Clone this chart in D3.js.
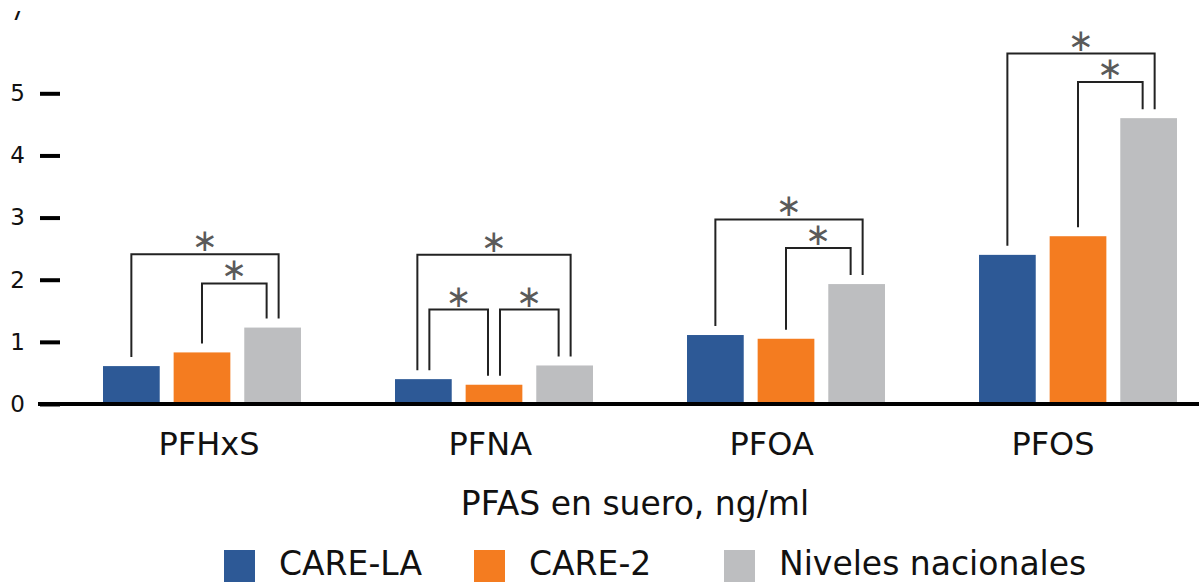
<!DOCTYPE html>
<html>
<head>
<meta charset="utf-8">
<script src="https://cdn.jsdelivr.net/npm/d3@7"></script>
<style>
  html, body { margin: 0; padding: 0; background: #fff; }
  svg { display: block; }
</style>
</head>
<body>
<svg id="chart" width="1199" height="582"></svg>
<script>
// ---------- data ----------
const categories = ["PFHxS", "PFNA", "PFOA", "PFOS"];
const seriesNames = ["CARE-LA", "CARE-2", "Niveles nacionales"];
const careLA   = [0.61, 0.40, 1.11, 2.40];
const care2    = [0.83, 0.31, 1.05, 2.70];
const nacional = [1.23, 0.62, 1.93, 4.60];
const yTicks = [0, 1, 2, 3, 4, 5];
const xTitle = "PFAS en suero, ng/ml";
// significance brackets: category, from series index, to series index, bracket level (ng/ml)
const bracketCat   = ["PFHxS", "PFHxS", "PFNA", "PFNA", "PFNA", "PFOA", "PFOA", "PFOS", "PFOS"];
const bracketFrom  = [0, 1, 0, 0, 1, 0, 1, 0, 1];
const bracketTo    = [2, 2, 2, 1, 2, 2, 2, 2, 2];
const bracketLevel = [2.41, 1.94, 2.40, 1.52, 1.52, 2.97, 2.51, 5.64, 5.18];
const bracketMark  = ["∗", "∗", "∗", "∗", "∗", "∗", "∗", "∗", "∗"];

const colors = ["#2d5996", "#f47c20", "#bdbec0"];
const FONT = "'DejaVu Sans', sans-serif";

const values = [careLA, care2, nacional];
const rows = categories.map((c, i) => ({ cat: c, vals: values.map(s => s[i]) }));

const svg = d3.select("#chart");

// ---------- scales ----------
const x0 = d3.scaleBand().domain(categories).range([103, 1177]).paddingInner(0.322).paddingOuter(0);
const x1 = d3.scaleBand().domain(d3.range(seriesNames.length)).range([0, x0.bandwidth()]).paddingInner(0.197).paddingOuter(0);
const xLabel = d3.scalePoint().domain(categories).range([209, 1053]);
const y = d3.scaleLinear().domain([0, 5]).range([404, 93.3]);

// ---------- y axis ----------
const yAxis = d3.axisLeft(y).tickValues(yTicks).tickSize(20).tickPadding(15).tickFormat(d3.format("d"));
const gy = svg.append("g").attr("transform", "translate(60,0)").call(yAxis);
gy.select(".domain").remove();
gy.selectAll(".tick line").attr("stroke", "#000").attr("stroke-width", 4);
gy.selectAll(".tick text").attr("font-family", FONT).attr("font-size", 23).attr("fill", "#111");

// partially hidden top label
svg.append("clipPath").attr("id", "topclip").append("rect").attr("x", 0).attr("y", 11).attr("width", 60).attr("height", 20);
svg.append("text").attr("clip-path", "url(#topclip)")
  .attr("x", 25).attr("y", 20).attr("text-anchor", "end")
  .attr("font-family", FONT).attr("font-size", 23).attr("fill", "#111").text("7");

// ---------- bars ----------
const groups = svg.append("g").selectAll("g").data(rows).join("g")
  .attr("transform", d => `translate(${x0(d.cat)},0)`);
groups.selectAll("rect").data(d => d.vals.map((v, k) => ({ k, v }))).join("rect")
  .attr("x", d => x1(d.k))
  .attr("width", x1.bandwidth())
  .attr("y", d => y(d.v))
  .attr("height", d => y(0) - y(d.v))
  .attr("fill", d => colors[d.k]);

// x axis line
svg.append("line").attr("x1", 38).attr("x2", 1199).attr("y1", y(0)).attr("y2", y(0))
  .attr("stroke", "#000").attr("stroke-width", 4);

// ---------- brackets ----------
const brackets = bracketCat.map((c, i) => ({ cat: c, a: bracketFrom[i], b: bracketTo[i], level: bracketLevel[i], mark: bracketMark[i] }));
const legOffset = 6;
function legX(br, end) {
  const me = end === "a" ? br.a : br.b;
  const other = end === "a" ? br.b : br.a;
  const center = x0(br.cat) + x1(me) + x1.bandwidth() / 2;
  const legs = [];
  brackets.filter(o => o.cat === br.cat).forEach(o => {
    if (o.a === me) legs.push({ o, diff: o.b - me });
    if (o.b === me) legs.push({ o, diff: o.a - me });
  });
  if (legs.length < 2) return center;
  legs.sort((p, q) => 1 / p.diff - 1 / q.diff);
  const idx = legs.findIndex(l => l.o === br && l.diff === other - me);
  return center + (idx === 0 ? -legOffset : legOffset);
}
const catIndex = c => categories.indexOf(c);
const gb = svg.append("g");
brackets.forEach(br => {
  const xa = legX(br, "a"), xb = legX(br, "b");
  const ya = y(values[br.a][catIndex(br.cat)]) - 9;
  const yb = y(values[br.b][catIndex(br.cat)]) - 9;
  const yt = y(br.level);
  gb.append("path")
    .attr("d", d3.line()([[xa, ya], [xa, yt], [xb, yt], [xb, yb]]))
    .attr("fill", "none").attr("stroke", "#222").attr("stroke-width", 2);
  gb.append("text")
    .attr("x", (xa + xb) / 2).attr("y", yt - 14)
    .attr("text-anchor", "middle").attr("dominant-baseline", "central")
    .attr("font-family", "'DejaVu Sans', sans-serif").attr("font-size", 31).attr("fill", "#5a5a5a")
    .text(br.mark);
});

// ---------- category labels ----------
svg.append("g").selectAll("text").data(categories).join("text")
  .attr("x", d => xLabel(d))
  .attr("y", 455)
  .attr("text-anchor", "middle")
  .attr("font-family", FONT).attr("font-size", 32).attr("fill", "#111")
  .text(d => d);

// axis title
svg.append("text").attr("x", 635).attr("y", 515).attr("text-anchor", "middle")
  .attr("font-family", FONT).attr("font-size", 33).attr("fill", "#111").text(xTitle);

// ---------- legend ----------
const legendX = d3.scalePoint().domain(seriesNames).range([224, 724]);
const lg = svg.append("g").selectAll("g").data(seriesNames).join("g")
  .attr("transform", d => `translate(${legendX(d)},550)`);
lg.append("rect").attr("width", 31).attr("height", 32).attr("fill", (d, i) => colors[i]);
lg.append("text").attr("x", 55).attr("y", 25)
  .attr("font-family", FONT).attr("font-size", 33).attr("fill", "#111").text(d => d);
</script>
</body>
</html>
